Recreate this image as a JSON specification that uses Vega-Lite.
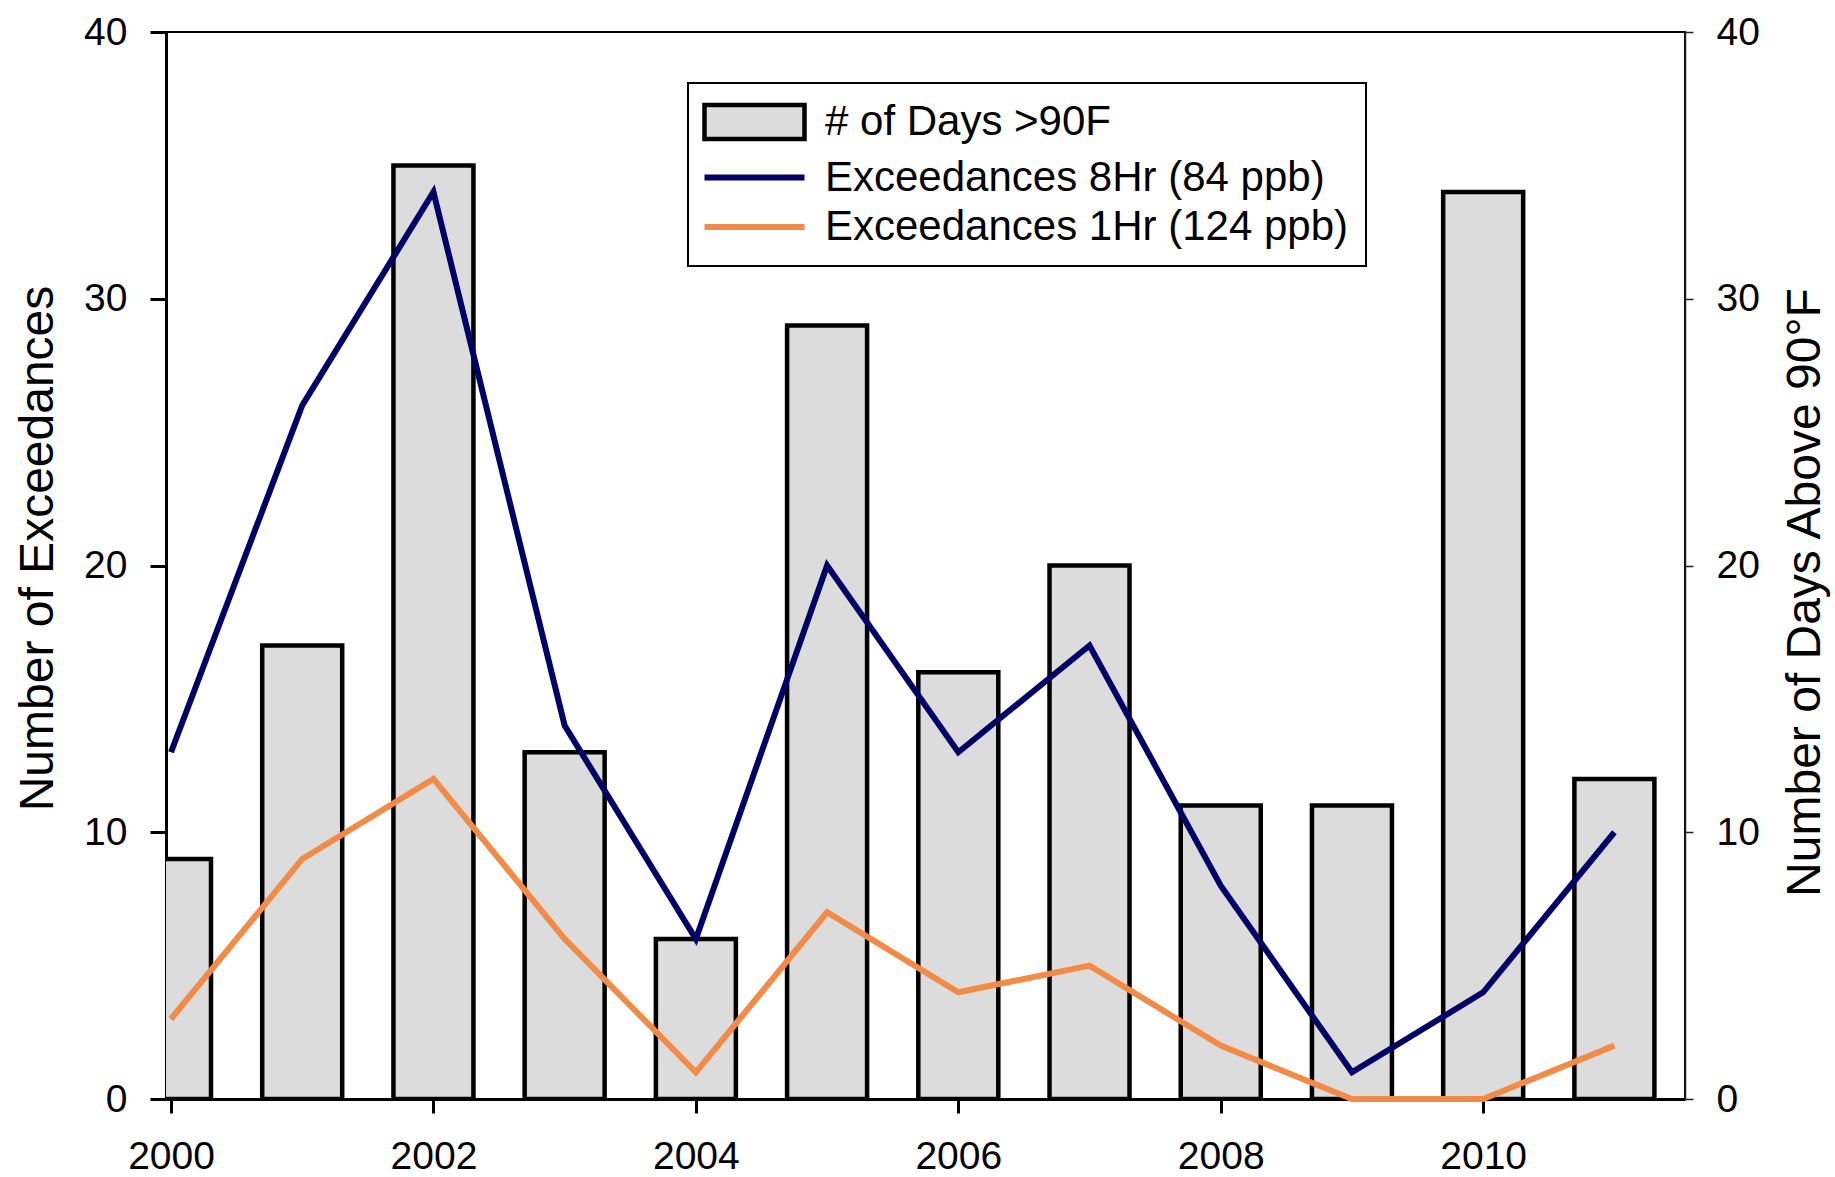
{
  "$schema": "https://vega.github.io/schema/vega-lite/v6.json",
  "width": 1519,
  "height": 1067,
  "autosize": {"type": "none"},
  "padding": {"left": 166, "top": 32, "right": 150, "bottom": 78},
  "background": "white",
  "config": {
    "font": "Liberation Sans",
    "view": {"stroke": "black", "strokeWidth": 2},
    "axis": {"grid": false, "labelColor": "black", "titleColor": "black", "domainColor": "black", "tickColor": "black", "labelFont": "Liberation Sans", "titleFont": "Liberation Sans", "titleFontWeight": "normal"}
  },
  "datasets": {
    "bars": [
      {"year": 2000, "series": "# of Days >90F", "value": 9},
      {"year": 2001, "series": "# of Days >90F", "value": 17},
      {"year": 2002, "series": "# of Days >90F", "value": 35},
      {"year": 2003, "series": "# of Days >90F", "value": 13},
      {"year": 2004, "series": "# of Days >90F", "value": 6},
      {"year": 2005, "series": "# of Days >90F", "value": 29},
      {"year": 2006, "series": "# of Days >90F", "value": 16},
      {"year": 2007, "series": "# of Days >90F", "value": 20},
      {"year": 2008, "series": "# of Days >90F", "value": 11},
      {"year": 2009, "series": "# of Days >90F", "value": 11},
      {"year": 2010, "series": "# of Days >90F", "value": 34},
      {"year": 2011, "series": "# of Days >90F", "value": 12}
    ],
    "lines": [
      {"year": 2000, "series": "Exceedances 8Hr (84 ppb)", "value": 13},
      {"year": 2001, "series": "Exceedances 8Hr (84 ppb)", "value": 26},
      {"year": 2002, "series": "Exceedances 8Hr (84 ppb)", "value": 34},
      {"year": 2003, "series": "Exceedances 8Hr (84 ppb)", "value": 14},
      {"year": 2004, "series": "Exceedances 8Hr (84 ppb)", "value": 6},
      {"year": 2005, "series": "Exceedances 8Hr (84 ppb)", "value": 20},
      {"year": 2006, "series": "Exceedances 8Hr (84 ppb)", "value": 13},
      {"year": 2007, "series": "Exceedances 8Hr (84 ppb)", "value": 17},
      {"year": 2008, "series": "Exceedances 8Hr (84 ppb)", "value": 8},
      {"year": 2009, "series": "Exceedances 8Hr (84 ppb)", "value": 1},
      {"year": 2010, "series": "Exceedances 8Hr (84 ppb)", "value": 4},
      {"year": 2011, "series": "Exceedances 8Hr (84 ppb)", "value": 10},
      {"year": 2000, "series": "Exceedances 1Hr (124 ppb)", "value": 3},
      {"year": 2001, "series": "Exceedances 1Hr (124 ppb)", "value": 9},
      {"year": 2002, "series": "Exceedances 1Hr (124 ppb)", "value": 12},
      {"year": 2003, "series": "Exceedances 1Hr (124 ppb)", "value": 6},
      {"year": 2004, "series": "Exceedances 1Hr (124 ppb)", "value": 1},
      {"year": 2005, "series": "Exceedances 1Hr (124 ppb)", "value": 7},
      {"year": 2006, "series": "Exceedances 1Hr (124 ppb)", "value": 4},
      {"year": 2007, "series": "Exceedances 1Hr (124 ppb)", "value": 5},
      {"year": 2008, "series": "Exceedances 1Hr (124 ppb)", "value": 2},
      {"year": 2009, "series": "Exceedances 1Hr (124 ppb)", "value": 0},
      {"year": 2010, "series": "Exceedances 1Hr (124 ppb)", "value": 0},
      {"year": 2011, "series": "Exceedances 1Hr (124 ppb)", "value": 2}
    ]
  },
  "encoding": {
    "x": {
      "field": "year",
      "type": "quantitative",
      "scale": {"domain": [2000, 2011.5], "nice": false, "zero": false},
      "axis": {
        "title": null,
        "values": [2000, 2002, 2004, 2006, 2008, 2010],
        "format": "d",
        "tickSize": 14,
        "tickWidth": 3,
        "domainWidth": 3,
        "labelFontSize": 39,
        "labelPadding": 24,
        "labelFlush": false,
        "labelOverlap": false
      }
    }
  },
  "layer": [
    {
      "data": {"name": "bars"},
      "mark": {"type": "bar", "width": 80, "fill": "#dcdcdc", "stroke": "black", "strokeWidth": 4.5, "clip": true},
      "encoding": {
        "y": {
          "field": "value",
          "type": "quantitative",
          "scale": {"domain": [0, 40], "nice": false},
          "axis": {
            "orient": "right",
            "values": [0, 10, 20, 30, 40],
            "tickSize": 8,
            "tickWidth": 1.5,
            "domainWidth": 1.5,
            "domainColor": "#222222",
            "tickColor": "#222222",
            "labelFontSize": 39,
            "labelPadding": 23,
            "title": "Number of Days Above 90°F",
            "titleFontSize": 48,
            "titleAngle": -90,
            "titleBaseline": "top",
            "titleAlign": "center",
            "titleX": 96,
            "titleY": 560
          }
        }
      }
    },
    {
      "data": {"name": "lines"},
      "mark": {"type": "line", "strokeWidth": 6},
      "encoding": {
        "y": {
          "field": "value",
          "type": "quantitative",
          "scale": {"domain": [0, 40], "nice": false},
          "axis": {
            "orient": "left",
            "values": [0, 10, 20, 30, 40],
            "tickSize": 16,
            "tickWidth": 3,
            "domainWidth": 3,
            "labelFontSize": 39,
            "labelPadding": 23,
            "title": "Number of Exceedances",
            "titleFontSize": 48,
            "titleAngle": -90,
            "titleBaseline": "bottom",
            "titleAlign": "center",
            "titleX": -104,
            "titleY": 516
          }
        },
        "color": {
          "field": "series",
          "type": "nominal",
          "scale": {
            "domain": ["# of Days >90F", "Exceedances 8Hr (84 ppb)", "Exceedances 1Hr (124 ppb)"],
            "range": ["#000000", "#000066", "#f28a48"]
          },
          "legend": {
            "orient": "none",
            "legendX": 522,
            "legendY": 51,
            "title": null,
            "labelFontSize": 42,
            "labelColor": "black",
            "labelFont": "Liberation Sans",
            "labelLimit": 1000,
            "symbolSize": 2025,
            "labelOffset": 77,
            "rowPadding": 7.5,
            "padding": 18,
            "strokeColor": "black",
            "fillColor": "white",
            "encode": {
              "legend": {"update": {"strokeWidth": {"value": 2}}},
              "symbols": {
                "update": {
                  "shape": {"signal": "datum.value === '# of Days >90F' ? 'M-1,-0.756H3.444V0.756H-1Z' : 'M-1,0H3.444'"},
                  "fill": {"signal": "datum.value === '# of Days >90F' ? '#dcdcdc' : 'transparent'"},
                  "strokeWidth": {"signal": "datum.value === '# of Days >90F' ? 4.5 : 6"},
                  "size": {"value": 2025},
                  "opacity": {"value": 1},
                  "fillOpacity": {"value": 1},
                  "strokeOpacity": {"value": 1}
                }
              }
            }
          }
        }
      }
    }
  ],
  "resolve": {"scale": {"y": "independent"}}
}
